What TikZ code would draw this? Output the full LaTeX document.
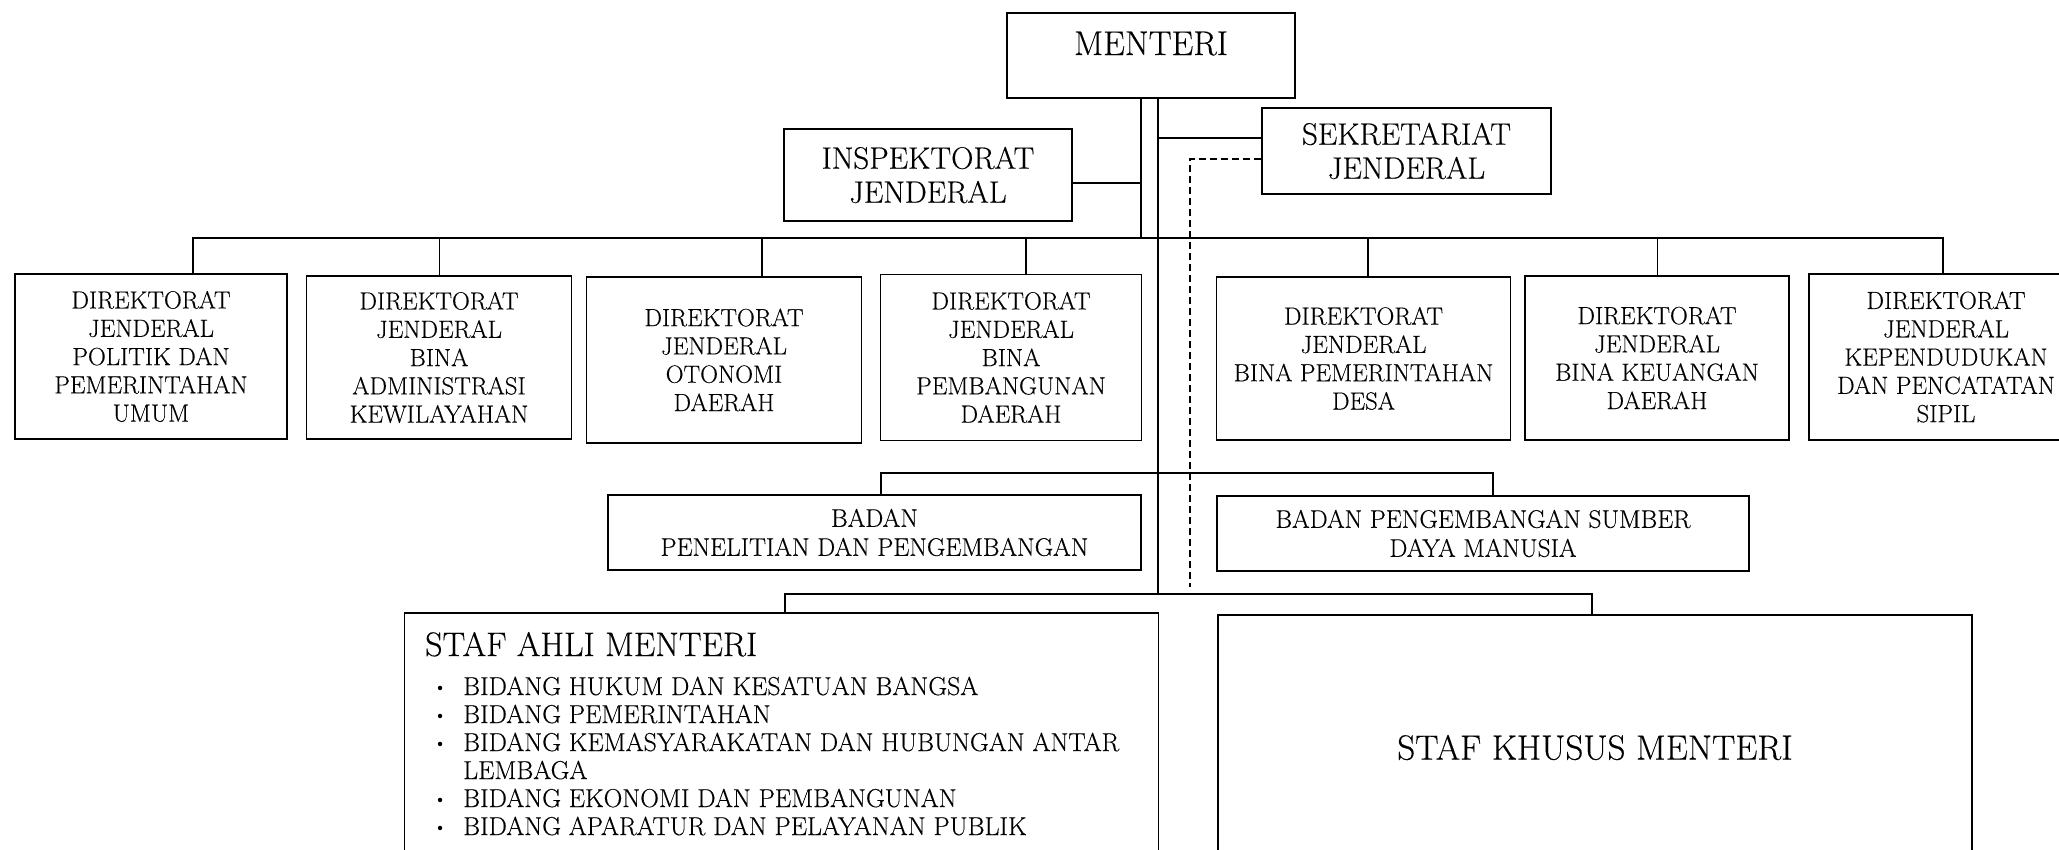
\documentclass[tikz,border=0pt]{standalone}
\usepackage{fontspec}
\setmainfont{Latin Modern Roman}[FakeBold=0.3]
\begin{document}
\begin{tikzpicture}[x=1pt,y=-1pt,
  box/.style={draw, line width=1.7pt, inner sep=0pt, align=center, rectangle},
  dfont/.style={font=\fontsize{24.8}{28.3}\selectfont},
  bfont/.style={font=\fontsize{25.4}{29}\selectfont},
  hfont/.style={font=\fontsize{31}{34}\selectfont},
  conn/.style={line width=1.3pt},
  dconn/.style={line width=1.3pt, dash pattern=on 7pt off 4pt},
  txt/.style={inner sep=0pt, anchor=base west}]
\clip (0,0) rectangle (2059,849);
\fill[white] (0,0) rectangle (2059,849);

% top level
\node[box, minimum width=288pt, minimum height=85pt] (menteri) at (1151,55.5) {};
\node[inner sep=0pt, anchor=base, font=\fontsize{34.4}{38}\selectfont] (menteritxt) at (1151,55) {MENTERI};
\node[box, hfont, minimum width=288pt, minimum height=92pt] (insp) at (928,175) {INSPEKTORAT\\JENDERAL};
\node[box, hfont, minimum width=289pt, minimum height=86pt] (sekjen) at (1406.5,151) {SEKRETARIAT\\JENDERAL};

% directorates
\node[box, dfont, minimum width=272pt, minimum height=165pt] (d1) at (151,356.5) {DIREKTORAT\\JENDERAL\\POLITIK DAN\\PEMERINTAHAN\\UMUM};
\node[box, dfont, minimum width=265pt, minimum height=163pt] (d2) at (439,357.5) {DIREKTORAT\\JENDERAL\\BINA\\ADMINISTRASI\\KEWILAYAHAN};
\node[box, dfont, minimum width=275pt, minimum height=166pt] (d3) at (724,360) {DIREKTORAT\\JENDERAL\\OTONOMI\\DAERAH};
\node[box, dfont, minimum width=261pt, minimum height=166pt] (d4) at (1011,357.5) {DIREKTORAT\\JENDERAL\\BINA\\PEMBANGUNAN\\DAERAH};
\node[box, dfont, minimum width=294pt, minimum height=163pt] (d5) at (1363.5,358.5) {DIREKTORAT\\JENDERAL\\BINA PEMERINTAHAN\\DESA};
\node[box, dfont, minimum width=264pt, minimum height=164pt] (d6) at (1657,358) {DIREKTORAT\\JENDERAL\\BINA KEUANGAN\\DAERAH};
\node[box, dfont, minimum width=274pt, minimum height=166pt] (d7) at (1946,357) {DIREKTORAT\\JENDERAL\\KEPENDUDUKAN\\DAN PENCATATAN\\SIPIL};

% badan
\node[box, bfont, minimum width=533pt, minimum height=75pt] (b1) at (874.5,532.5) {BADAN\\PENELITIAN DAN PENGEMBANGAN};
\node[box, bfont, minimum width=532pt, minimum height=75pt] (b2) at (1483,533.5) {BADAN PENGEMBANGAN SUMBER\\DAYA MANUSIA};

% staf
\node[box, minimum width=754pt, minimum height=287pt] (sa) at (781.5,756.5) {};
\node[box, minimum width=754pt, minimum height=285pt] (sk) at (1595,757.5) {};
\node[inner sep=0pt, font=\fontsize{35}{38}\selectfont] (sktxt) at (1595,747.5) {STAF KHUSUS MENTERI};

\node[txt, font=\fontsize{34}{38}\selectfont] (satitle) at (425,656) {STAF AHLI MENTERI};
\begin{scope}[font=\fontsize{25.9}{28}\selectfont]
\node[txt] (i1) at (463,695) {BIDANG HUKUM DAN KESATUAN BANGSA};
\node[txt] (i2) at (463,723) {BIDANG PEMERINTAHAN};
\node[txt] (i3) at (463,751) {BIDANG KEMASYARAKATAN DAN HUBUNGAN ANTAR};
\node[txt] (i3b) at (463,779) {LEMBAGA};
\node[txt] (i4) at (463,807) {BIDANG EKONOMI DAN PEMBANGUNAN};
\node[txt] (i5) at (463,835) {BIDANG APARATUR DAN PELAYANAN PUBLIK};
\end{scope}
\begin{scope}[font=\fontsize{19}{20}\selectfont]
\foreach \n/\yy in {1/695,2/723,3/751,4/807,5/835}
  \node[txt] (bul\n) at (433,\yy-2) {\textbullet};
\end{scope}

% connector coordinates
\coordinate (jL) at (1141,238);
\coordinate (jR) at (1158,594);
\coordinate (barL) at (193,238);
\coordinate (barR) at (1943,238);
\coordinate (k2) at (439.5,238);
\coordinate (k3) at (762,238);
\coordinate (k4) at (1026,238);
\coordinate (k5) at (1368,238);
\coordinate (k6) at (1657.5,238);
\coordinate (ie) at ([yshift=-8pt]insp.east);
\coordinate (se) at ([yshift=13pt]sekjen.west);
\coordinate (sd) at ([yshift=-8pt]sekjen.west);
\coordinate (dend) at (1190,587);
\coordinate (bl) at (881,473);
\coordinate (br) at (1493,473);
\coordinate (cl) at (785,594);
\coordinate (cr) at (1592,594);

% connectors
\draw[conn] ([xshift=-10pt]menteri.south) -- (jL);
\draw[conn] ([xshift=7pt]menteri.south) -- (jR);
\draw[conn] (ie) -- (ie -| jL);
\draw[conn] (se) -- (se -| jR);
\draw[dconn] (sd) -| (dend);
\draw[conn] (barL |- d1.north) -- (barL) -- (barR) -- (barR |- d7.north);
\draw[conn] (k2) -- (k2 |- d2.north);
\draw[conn] (k3) -- (k3 |- d3.north);
\draw[conn] (k4) -- (k4 |- d4.north);
\draw[conn] (k5) -- (k5 |- d5.north);
\draw[conn] (k6) -- (k6 |- d6.north);
\draw[conn] (bl |- b1.north) -- (bl) -- (br) -- (br |- b2.north);
\draw[conn] (cl |- sa.north) -- (cl) -- (cr) -- (cr |- sk.north);
\end{tikzpicture}
\end{document}
